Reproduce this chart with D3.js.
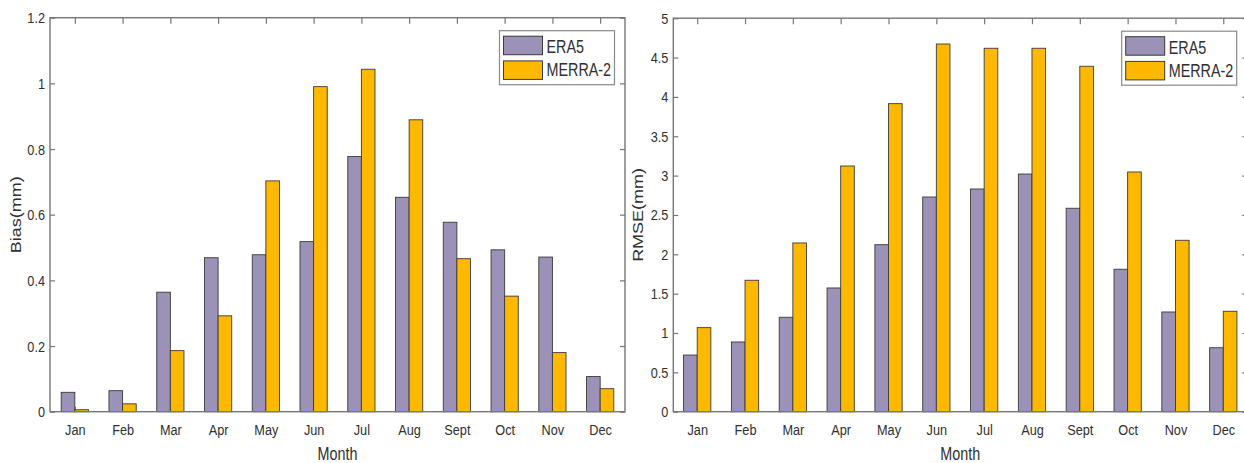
<!DOCTYPE html>
<html>
<head>
<meta charset="utf-8">
<script src="https://cdn.jsdelivr.net/npm/d3@7"></script>
<style>
  html, body { margin: 0; padding: 0; background: #fff; }
  svg { display: block; }
  text { font-family: "Liberation Sans", Arial, sans-serif; fill: #303030; }
</style>
</head>
<body>
<svg id="chart" width="1244" height="463"></svg>
<script>
// Monthly categories shared by both panels
const months = ["Jan", "Feb", "Mar", "Apr", "May", "Jun", "Jul", "Aug", "Sept", "Oct", "Nov", "Dec"];
const seriesNames = ["ERA5", "MERRA-2"];

// Bias (mm) per month
const biasERA5  = [0.059, 0.064, 0.364, 0.469, 0.478, 0.518, 0.777, 0.653, 0.577, 0.493, 0.471, 0.107];
const biasMERRA = [0.006, 0.024, 0.186, 0.292, 0.703, 0.990, 1.043, 0.889, 0.466, 0.352, 0.180, 0.070];

// RMSE (mm) per month
const rmseERA5  = [0.72, 0.886, 1.20, 1.572, 2.122, 2.728, 2.83, 3.02, 2.585, 1.81, 1.267, 0.813];
const rmseMERRA = [1.068, 1.67, 2.144, 3.122, 3.914, 4.672, 4.618, 4.618, 4.389, 3.046, 2.178, 1.276];

// Axis tick values
const biasTicks = [0, 0.2, 0.4, 0.6, 0.8, 1, 1.2];
const rmseTicks = [0, 0.5, 1, 1.5, 2, 2.5, 3, 3.5, 4, 4.5, 5];

const colors = ["#9c91b7", "#ffb800"];
const squeeze = 0.82;   // narrow text rendering

const svg = d3.select("#chart");

function drawPanel(opt) {
  const g = svg.append("g");
  const x = d3.scaleLinear().domain(opt.xDomain).range([opt.left, opt.right]);
  const y = d3.scaleLinear().domain(opt.yDomain).range([opt.bottom, opt.top]);
  const step = x(2) - x(1);
  const bw = step * 0.285;

  // left axis with inward ticks
  const yAxis = g.append("g")
    .attr("transform", `translate(${opt.left},0)`)
    .call(d3.axisLeft(y).tickValues(opt.yTicks).tickSize(-5).tickPadding(5)
      .tickFormat(d => String(+d.toFixed(2))));
  // right axis: ticks only
  const yAxisR = g.append("g")
    .attr("transform", `translate(${opt.right},0)`)
    .call(d3.axisRight(y).tickValues(opt.yTicks).tickSize(-5).tickFormat(""));
  // top axis: ticks only
  const xAxisT = g.append("g")
    .attr("transform", `translate(0,${opt.top})`)
    .call(d3.axisTop(x).tickValues(d3.range(1, 13)).tickSize(-6).tickFormat(""));
  // bottom axis with month labels
  const xAxis = g.append("g")
    .attr("transform", `translate(0,${opt.bottom})`)
    .call(d3.axisBottom(x).tickValues(d3.range(1, 13)).tickSize(-5).tickPadding(12)
      .tickFormat(i => months[i - 1]));

  [yAxis, yAxisR, xAxisT, xAxis].forEach(a => {
    a.select(".domain").remove();
    a.selectAll(".tick line").attr("stroke", "#777").attr("stroke-width", 1.2);
    a.selectAll(".tick text")
      .style("font-size", "15.5px")
      .attr("fill", "#303030")
      .attr("transform", `scale(${squeeze},1)`);
  });
  yAxis.selectAll(".tick text").attr("x", -5 / squeeze);

  // bars
  const series = [opt.a, opt.b];
  series.forEach((vals, si) => {
    g.append("g").selectAll("rect")
      .data(vals)
      .join("rect")
      .attr("x", (d, i) => x(i + 1) - bw + si * bw)
      .attr("y", d => y(d))
      .attr("width", bw)
      .attr("height", d => y(0) - y(d))
      .attr("fill", colors[si])
      .attr("stroke", "#3a3a3a")
      .attr("stroke-width", 0.9);
  });

  // axes box
  g.append("rect")
    .attr("x", opt.left).attr("y", opt.top)
    .attr("width", opt.right - opt.left).attr("height", opt.bottom - opt.top)
    .attr("fill", "none").attr("stroke", "#777").attr("stroke-width", 1.4);

  // x label
  g.append("text")
    .attr("transform", `translate(${(opt.left + opt.right) / 2},${opt.bottom + 48}) scale(${squeeze},1)`)
    .attr("text-anchor", "middle")
    .style("font-size", "17.5px")
    .text("Month");

  // y label
  g.append("text")
    .attr("transform", `translate(${opt.yLabelX},${(opt.top + opt.bottom) / 2}) rotate(-90) scale(1,${squeeze})`)
    .attr("text-anchor", "middle")
    .style("font-size", "18px")
    .text(opt.yLabel);

  // legend
  const lw = 115, lh = 54;
  const lx = opt.right - 10.5 - lw, ly = opt.top + 13;
  const leg = g.append("g").attr("transform", `translate(${lx},${ly})`);
  leg.append("rect").attr("width", lw).attr("height", lh)
    .attr("fill", "#fff").attr("stroke", "#8a8a8a").attr("stroke-width", 1.2);
  seriesNames.forEach((name, i) => {
    leg.append("rect")
      .attr("x", 4).attr("y", 5.5 + i * 24.7)
      .attr("width", 39).attr("height", 18.5)
      .attr("fill", colors[i]).attr("stroke", "#3a3a3a").attr("stroke-width", 1);
    leg.append("text")
      .attr("transform", `translate(47,${22.5 + i * 23}) scale(${squeeze},1)`)
      .style("font-size", "17.5px")
      .text(name);
  });
}

drawPanel({
  left: 50, right: 625, top: 17.7, bottom: 411.7,
  xDomain: [0.48, 12.52], yDomain: [0, 1.2], yTicks: biasTicks,
  a: biasERA5, b: biasMERRA, yLabel: "Bias(mm)", yLabelX: 21
});

drawPanel({
  left: 673.3, right: 1247.2, top: 18.2, bottom: 411.7,
  xDomain: [0.5, 12.5], yDomain: [0, 5], yTicks: rmseTicks,
  a: rmseERA5, b: rmseMERRA, yLabel: "RMSE(mm)", yLabelX: 643
});
</script>
</body>
</html>
